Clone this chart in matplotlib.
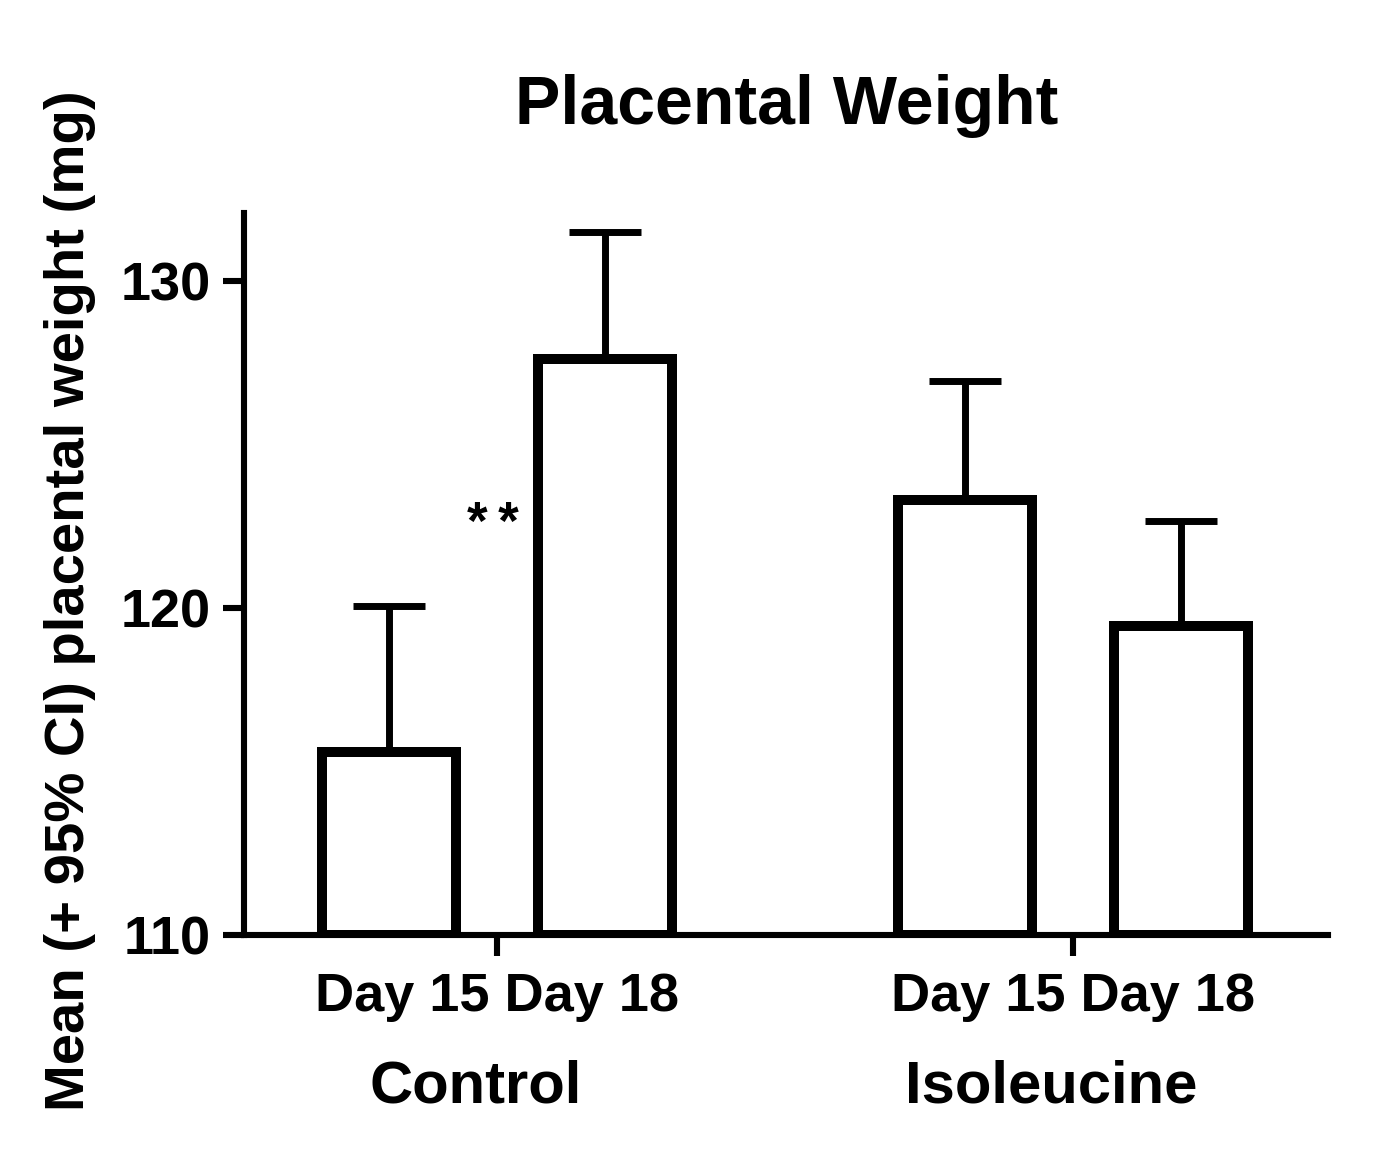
import matplotlib
matplotlib.use("Agg")
import matplotlib.pyplot as plt
import numpy as np

plt.rcParams["font.family"] = ["Liberation Sans", "DejaVu Sans"]
plt.rcParams["font.weight"] = "bold"

# Data
groups = ["Control", "Isoleucine"]
days = ["Day 15", "Day 18"]
means = [[115.6, 127.6], [123.3, 119.45]]
ci_upper = [[120.05, 131.5], [126.95, 122.65]]
y_base = 110
y_ticks = [110, 120, 130]

fig = plt.figure(figsize=(13.77, 11.52), dpi=100)
ax = fig.add_axes([0.1772, 0.1884, 0.7872, 0.6267])

group_x = np.arange(len(groups))
offsets = [-0.1875, 0.1875]
bar_w = 0.233

for gi, gx in enumerate(group_x):
    for di, off in enumerate(offsets):
        m = means[gi][di]
        err = ci_upper[gi][di] - m
        ax.errorbar(gx + off, m, yerr=[[0], [err]], fmt="none", ecolor="black",
                    elinewidth=5, capsize=26, capthick=5, zorder=2)
        ax.bar(gx + off, m - y_base, bottom=y_base, width=bar_w, color="white",
               edgecolor="black", linewidth=7.2, zorder=3)

# significance marker
ax.text(-0.007, 122.55, "*\u2009*", ha="center", va="center", fontsize=38,
        fontweight="bold")

ax.set_xlim(-0.439, 1.443)
ax.set_ylim(y_base, 132.08)
ax.set_yticks(y_ticks)
ax.set_yticklabels([str(t) for t in y_ticks])
ax.set_xticks(group_x)
ax.set_xticklabels([" ".join(days)] * len(groups))

for side in ["top", "right"]:
    ax.spines[side].set_visible(False)
for side in ["left", "bottom"]:
    ax.spines[side].set_linewidth(4.4)

ax.tick_params(axis="both", length=15, width=4.4, labelsize=39)
ax.tick_params(axis="y", pad=9)
ax.tick_params(axis="x", pad=12)

for gi, gx in enumerate(group_x):
    ax.text(gx - 0.037, -0.2327, groups[gi], transform=ax.get_xaxis_transform(),
            ha="center", va="baseline", fontsize=43, fontweight="bold")

fig.text(787 / 1377, 1 - 124 / 1152, "Placental Weight", ha="center",
         va="baseline", fontsize=49, fontweight="bold")
fig.text(70 / 1377, 1 - 601 / 1152, "Mean (+ 95% CI) placental weight (mg)",
         rotation=90, ha="center", va="center", fontsize=40.5, fontweight="bold")

fig.savefig("out.png", dpi=100)
